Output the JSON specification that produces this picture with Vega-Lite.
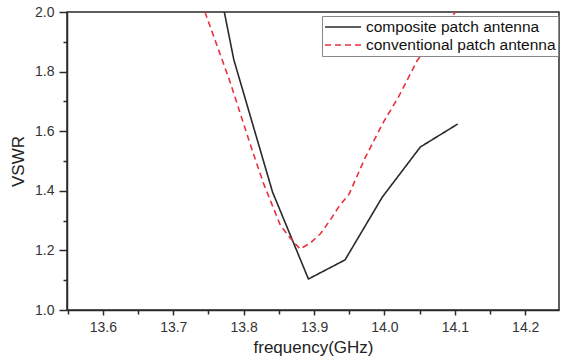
{
  "$schema": "https://vega.github.io/schema/vega-lite/v6.json",
  "width": 492,
  "height": 298,
  "autosize": {"type": "none"},
  "padding": {"left": 67, "top": 12, "right": 2, "bottom": 52},
  "background": "white",
  "config": {
    "font": "Liberation Sans",
    "view": {"stroke": "#2a2a2a", "strokeWidth": 1.5},
    "axis": {
      "domainColor": "#2a2a2a",
      "domainWidth": 1.5,
      "tickColor": "#2a2a2a",
      "tickWidth": 1.5,
      "grid": false,
      "labelFont": "Liberation Sans",
      "labelColor": "#333333",
      "labelFontSize": 14,
      "titleFont": "Liberation Sans",
      "titleFontSize": 17,
      "titleFontWeight": "normal",
      "titleColor": "#222222"
    },
    "legend": {
      "labelFont": "Liberation Sans",
      "labelFontSize": 15.5,
      "labelColor": "#111111"
    }
  },
  "data": {
    "values": [
      {"freq": 13.7725, "vswr": 2.0, "series": "composite patch antenna"},
      {"freq": 13.786, "vswr": 1.84, "series": "composite patch antenna"},
      {"freq": 13.841, "vswr": 1.396, "series": "composite patch antenna"},
      {"freq": 13.892, "vswr": 1.104, "series": "composite patch antenna"},
      {"freq": 13.944, "vswr": 1.168, "series": "composite patch antenna"},
      {"freq": 13.997, "vswr": 1.379, "series": "composite patch antenna"},
      {"freq": 14.051, "vswr": 1.547, "series": "composite patch antenna"},
      {"freq": 14.104, "vswr": 1.624, "series": "composite patch antenna"},
      {"freq": 13.745, "vswr": 2.0, "series": "conventional patch antenna"},
      {"freq": 13.78, "vswr": 1.77, "series": "conventional patch antenna"},
      {"freq": 13.812, "vswr": 1.537, "series": "conventional patch antenna"},
      {"freq": 13.828, "vswr": 1.426, "series": "conventional patch antenna"},
      {"freq": 13.852, "vswr": 1.285, "series": "conventional patch antenna"},
      {"freq": 13.866, "vswr": 1.242, "series": "conventional patch antenna"},
      {"freq": 13.88, "vswr": 1.205, "series": "conventional patch antenna"},
      {"freq": 13.895, "vswr": 1.225, "series": "conventional patch antenna"},
      {"freq": 13.909, "vswr": 1.256, "series": "conventional patch antenna"},
      {"freq": 13.923, "vswr": 1.302, "series": "conventional patch antenna"},
      {"freq": 13.935, "vswr": 1.346, "series": "conventional patch antenna"},
      {"freq": 13.95, "vswr": 1.39, "series": "conventional patch antenna"},
      {"freq": 13.973, "vswr": 1.513, "series": "conventional patch antenna"},
      {"freq": 13.998, "vswr": 1.628, "series": "conventional patch antenna"},
      {"freq": 14.02, "vswr": 1.715, "series": "conventional patch antenna"},
      {"freq": 14.047, "vswr": 1.839, "series": "conventional patch antenna"},
      {"freq": 14.101, "vswr": 2.0, "series": "conventional patch antenna"}
    ]
  },
  "layer": [
    {
      "mark": {"type": "line", "strokeOpacity": 0},
      "encoding": {
        "x": {
          "field": "freq", "type": "quantitative",
          "scale": {"domain": [13.549, 14.248], "nice": false, "zero": false},
          "axis": {"orient": "bottom", "values": [13.55, 13.65, 13.75, 13.85, 13.95, 14.05, 14.15, 14.25], "labels": false, "domain": false, "tickSize": 4, "title": null}
        },
        "y": {
          "field": "vswr", "type": "quantitative",
          "scale": {"domain": [1.0, 2.0], "nice": false, "zero": false},
          "axis": {"orient": "left", "values": [1.1, 1.3, 1.5, 1.7, 1.9], "labels": false, "domain": false, "tickSize": 4, "title": null}
        },
        "detail": {"field": "series"}
      }
    },
    {
      "mark": {"type": "line", "clip": true, "strokeWidth": 1.6},
      "encoding": {
        "x": {
          "field": "freq", "type": "quantitative",
          "axis": {"orient": "bottom", "values": [13.6, 13.7, 13.8, 13.9, 14.0, 14.1, 14.2], "format": ".1f", "tickSize": 5, "labelPadding": 5, "title": "frequency(GHz)", "titlePadding": 5}
        },
        "y": {
          "field": "vswr", "type": "quantitative",
          "axis": {"orient": "left", "values": [1.0, 1.2, 1.4, 1.6, 1.8, 2.0], "format": ".1f", "tickSize": 8, "labelPadding": 5, "title": "VSWR", "titlePadding": 7}
        },
        "color": {
          "field": "series", "type": "nominal",
          "scale": {"domain": ["composite patch antenna", "conventional patch antenna"], "range": ["#2a2a2a", "#e8313f"]},
          "legend": {
            "title": null,
            "orient": "none",
            "legendX": 255,
            "legendY": 4,
            "fillColor": "white",
            "strokeColor": "#888888",
            "padding": 2,
            "symbolType": "M-1,0H3.5",
            "symbolSize": 256,
            "symbolStrokeWidth": 1.6,
            "labelOffset": 24,
            "labelLimit": 400,
            "rowPadding": 0
          }
        },
        "strokeDash": {
          "field": "series", "type": "nominal",
          "scale": {"domain": ["composite patch antenna", "conventional patch antenna"], "range": [[1, 0], [6, 4]]},
          "legend": null
        }
      }
    }
  ],
  "resolve": {"axis": {"x": "independent", "y": "independent"}}
}
